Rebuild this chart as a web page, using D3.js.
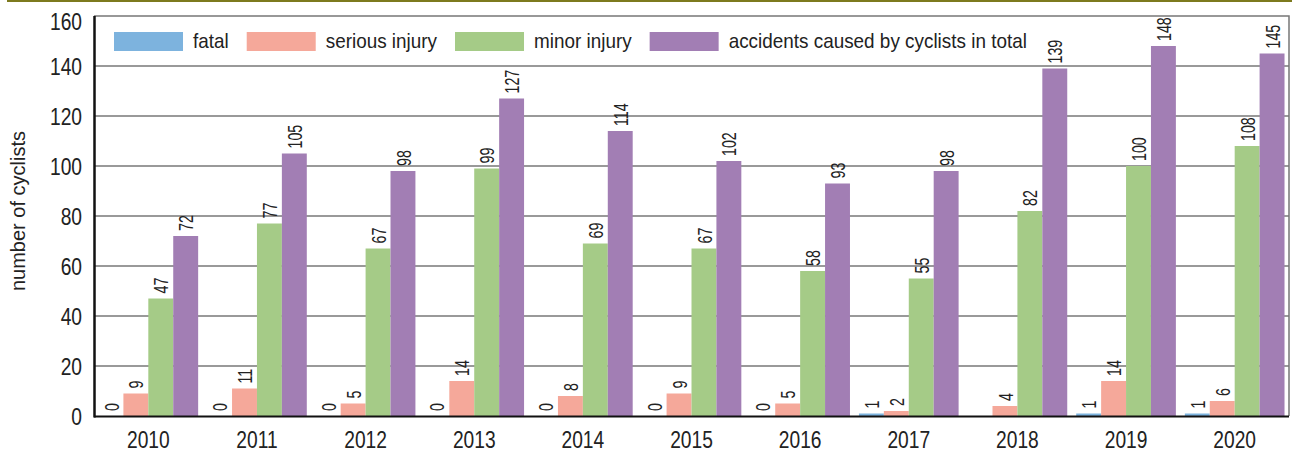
<!DOCTYPE html>
<html>
<head>
<meta charset="utf-8">
<script src="https://cdn.jsdelivr.net/npm/d3@7"></script>
<style>
  html, body { margin: 0; padding: 0; background: #fff; }
  svg text { font-family: "Liberation Sans", Arial, sans-serif; fill: #222; }
</style>
</head>
<body>
<div id="chart"></div>
<script>
// data
var years = ["2010", "2011", "2012", "2013", "2014", "2015", "2016", "2017", "2018", "2019", "2020"];
var fatal = [0, 0, 0, 0, 0, 0, 0, 1, null, 1, 1];
var serious = [9, 11, 5, 14, 8, 9, 5, 2, 4, 14, 6];
var minor = [47, 77, 67, 99, 69, 67, 58, 55, 82, 100, 108];
var total = [72, 105, 98, 127, 114, 102, 93, 98, 139, 148, 145];
var seriesNames = ["fatal", "serious injury", "minor injury", "accidents caused by cyclists in total"];
var yTicks = [0, 20, 40, 60, 80, 100, 120, 140, 160];

var colors = ["#7db3de", "#f5a89a", "#a5cb87", "#a27eb4"];
var seriesValues = [fatal, serious, minor, total];

// no narrow font installed, so squeeze Liberation Sans horizontally
var NARROW = 0.8;

var W = 1294, H = 454;
var margin = {top: 16, right: 5, bottom: 38, left: 94};
var width = W - margin.left - margin.right,
    height = H - margin.top - margin.bottom;

var svg = d3.select("#chart").append("svg")
    .attr("width", W)
    .attr("height", H);

// olive rule across the top
svg.append("rect")
  .attr("x", 7).attr("y", 0)
  .attr("width", 1285).attr("height", 2)
  .attr("fill", "#7d7a1e");

var g = svg.append("g")
    .attr("transform", "translate(" + margin.left + "," + margin.top + ")");

var y = d3.scaleLinear().domain([0, 160]).range([height, 0]);
var x0 = d3.scaleBand().domain(years).range([0, width]);
var x1 = d3.scaleBand().domain(d3.range(4)).range([0, x0.bandwidth()]).paddingOuter(0.18);

// grid
g.selectAll("line.grid")
  .data(yTicks.filter(function(d) { return d > 0 && d < 160; }))
  .enter().append("line")
  .attr("class", "grid")
  .attr("x1", 0).attr("x2", width)
  .attr("y1", function(d) { return y(d); })
  .attr("y2", function(d) { return y(d); })
  .attr("stroke", "#777")
  .attr("stroke-width", 1.5);

// frame top / right
g.append("path")
  .attr("d", "M0," + y(160) + "H" + width + "V" + height)
  .attr("fill", "none")
  .attr("stroke", "#777")
  .attr("stroke-width", 1.5);

// bars
var rows = years.map(function(yr, i) {
  return seriesValues.map(function(s, k) { return {year: yr, k: k, value: s[i]}; });
});

var groups = g.selectAll("g.year")
  .data(rows)
  .enter().append("g")
  .attr("class", "year")
  .attr("transform", function(d, i) { return "translate(" + x0(years[i]) + ",0)"; });

groups.selectAll("rect")
  .data(function(d) { return d; })
  .enter().append("rect")
  .attr("x", function(d) { return x1(d.k); })
  .attr("width", x1.bandwidth())
  .attr("y", function(d) { return y(d.value || 0); })
  .attr("height", function(d) { return height - y(d.value || 0); })
  .attr("fill", function(d) { return colors[d.k]; });

groups.selectAll("text")
  .data(function(d) { return d.filter(function(e) { return e.value !== null; }); })
  .enter().append("text")
  .attr("transform", function(d) {
    return "translate(" + (x1(d.k) + x1.bandwidth() / 2) + "," + (y(d.value) - 5) + ") rotate(-90) scale(0.68,1)";
  })
  .attr("dy", "0.36em")
  .style("font-size", "21px")
  .text(function(d) { return d.value; });

// axes
var yAxis = g.append("g")
  .call(d3.axisLeft(y).tickValues(yTicks).tickSize(0).tickPadding(12));
yAxis.select(".domain").remove();
yAxis.selectAll("text")
  .style("font-size", "24px")
  .attr("x", -12 / NARROW)
  .attr("transform", "scale(" + NARROW + ",1)")
  .attr("dy", function(d) { return d === 160 ? "0.57em" : "0.34em"; });

var xAxis = g.append("g")
  .attr("transform", "translate(0," + height + ")")
  .call(d3.axisBottom(x0).tickSize(0).tickPadding(15));
xAxis.select(".domain").remove();
xAxis.selectAll("text")
  .style("font-size", "24px")
  .attr("transform", "scale(" + NARROW + ",1)");

g.append("line")
  .attr("x1", 0).attr("x2", width)
  .attr("y1", height + 0.5).attr("y2", height + 0.5)
  .attr("stroke", "#111").attr("stroke-width", 2);
g.append("line")
  .attr("x1", 0.5).attr("x2", 0.5)
  .attr("y1", 0).attr("y2", height + 1.5)
  .attr("stroke", "#111").attr("stroke-width", 2.5);

svg.append("text")
  .attr("transform", "translate(25,211) rotate(-90)")
  .attr("text-anchor", "middle")
  .style("font-size", "20px")
  .text("number of cyclists");

// legend
var legend = g.append("g").attr("transform", "translate(20,16)");
var lx = 0;
seriesNames.forEach(function(name, k) {
  legend.append("rect")
    .attr("x", lx).attr("y", 0)
    .attr("width", 69).attr("height", 19)
    .attr("fill", colors[k]);
  var t = legend.append("text")
    .attr("transform", "translate(" + (lx + 79) + ",16) scale(0.9,1)")
    .style("font-size", "21px")
    .text(name);
  lx += 79 + t.node().getComputedTextLength() * 0.9 + 18;
});
</script>
</body>
</html>
